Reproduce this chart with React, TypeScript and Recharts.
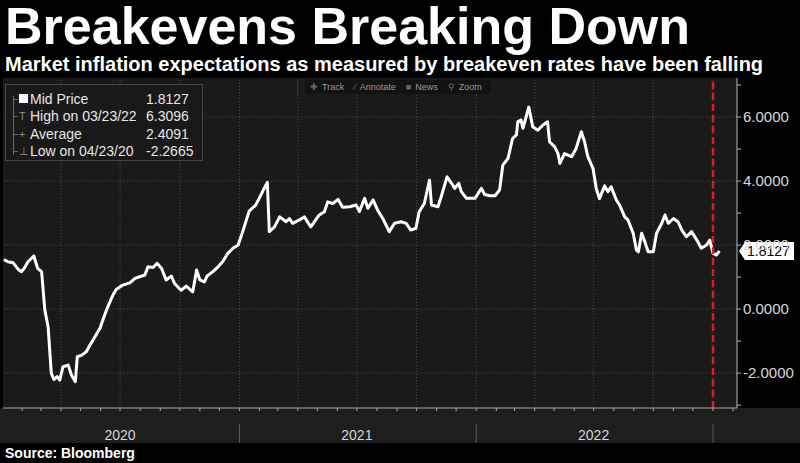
// Breakeven inflation rate, Bloomberg-style dark terminal chart.
import { Line, LineChart, ReferenceLine, XAxis, YAxis } from "recharts";

const TITLE = "Breakevens Breaking Down";
const SUBTITLE = "Market inflation expectations as measured by breakeven rates have been falling";
const SOURCE = "Source: Bloomberg";

// Roughly weekly.
const DATES = [
  "2020-01-04", "2020-01-10", "2020-01-18", "2020-01-26", "2020-01-31", "2020-02-05", "2020-02-10", "2020-02-19", "2020-02-25", "2020-03-02",
  "2020-03-07", "2020-03-12", "2020-03-17", "2020-03-21", "2020-03-26", "2020-03-30", "2020-04-04", "2020-04-12", "2020-04-17", "2020-04-23",
  "2020-04-26", "2020-05-03", "2020-05-10", "2020-05-14", "2020-05-23", "2020-05-31", "2020-06-07", "2020-06-12", "2020-06-20", "2020-06-25",
  "2020-07-05", "2020-07-16", "2020-07-24", "2020-07-31", "2020-08-08", "2020-08-13", "2020-08-21", "2020-08-27", "2020-09-03", "2020-09-10",
  "2020-09-18", "2020-09-23", "2020-10-03", "2020-10-11", "2020-10-21", "2020-10-27", "2020-11-01", "2020-11-08", "2020-11-12", "2020-11-21",
  "2020-11-29", "2020-12-06", "2020-12-14", "2020-12-22", "2020-12-30", "2021-01-06", "2021-01-16", "2021-01-26", "2021-02-03", "2021-02-08",
  "2021-02-13", "2021-02-16", "2021-02-24", "2021-03-04", "2021-03-14", "2021-03-19", "2021-03-24", "2021-04-03", "2021-04-11", "2021-04-21",
  "2021-05-04", "2021-05-12", "2021-05-17", "2021-05-25", "2021-06-02", "2021-06-09", "2021-06-20", "2021-06-30", "2021-07-05", "2021-07-13",
  "2021-07-18", "2021-07-26", "2021-08-02", "2021-08-10", "2021-08-20", "2021-08-28", "2021-09-07", "2021-09-15", "2021-09-22", "2021-09-30",
  "2021-10-05", "2021-10-13", "2021-10-21", "2021-10-24", "2021-11-03", "2021-11-08", "2021-11-17", "2021-11-24", "2021-11-29", "2021-12-05",
  "2021-12-09", "2021-12-17", "2021-12-30", "2022-01-09", "2022-01-14", "2022-01-22", "2022-01-30", "2022-02-06", "2022-02-11", "2022-02-19",
  "2022-02-26", "2022-03-04", "2022-03-06", "2022-03-11", "2022-03-14", "2022-03-19", "2022-03-23", "2022-03-29", "2022-04-06", "2022-04-14",
  "2022-04-21", "2022-04-24", "2022-05-02", "2022-05-07", "2022-05-10", "2022-05-17", "2022-05-28", "2022-06-04", "2022-06-12", "2022-06-17",
  "2022-06-22", "2022-06-30", "2022-07-05", "2022-07-10", "2022-07-18", "2022-07-23", "2022-07-28", "2022-08-05", "2022-08-10", "2022-08-18",
  "2022-08-23", "2022-08-31", "2022-09-05", "2022-09-08", "2022-09-13", "2022-09-18", "2022-09-23", "2022-10-01", "2022-10-06", "2022-10-14",
  "2022-10-19", "2022-10-24", "2022-11-01", "2022-11-08", "2022-11-14", "2022-11-21", "2022-11-29", "2022-12-07", "2022-12-14", "2022-12-22",
  "2022-12-27", "2023-01-01", "2023-01-06", "2023-01-11",
];

const VALUES = [
  1.55, 1.48, 1.45, 1.24, 1.17, 1.3, 1.48, 1.66, 1.27, 1.17,
  -0.03, -0.55, -2.01, -2.2, -2.11, -2.22, -1.8, -1.75, -2.06, -2.2665,
  -1.49, -1.44, -1.33, -1.18, -0.87, -0.6, -0.19, 0.07, 0.44, 0.61,
  0.75, 0.82, 0.96, 1.01, 1.06, 1.32, 1.3, 1.43, 1.27, 0.91,
  1.03, 0.8, 0.59, 0.72, 0.54, 1.22, 0.91, 0.85, 1.03, 1.17,
  1.32, 1.48, 1.74, 1.9, 2.0, 2.42, 3.06, 3.25, 3.56, 3.77,
  3.96, 2.42, 2.57, 2.88, 2.73, 2.83, 2.68, 2.78, 2.88, 2.57,
  2.94, 3.04, 3.35, 3.3, 3.43, 3.18, 3.2, 3.25, 3.05, 3.46,
  3.15, 3.41, 3.09, 2.83, 2.42, 2.68, 2.73, 2.68, 2.47, 2.52,
  3.04, 3.3, 4.03, 3.25, 3.2, 3.51, 4.13, 3.93, 3.77, 3.93,
  3.67, 3.46, 3.46, 3.77, 3.58, 3.54, 3.54, 3.72, 4.5, 4.71,
  5.33, 5.44, 5.85, 5.91, 5.65, 6.01, 6.3096, 5.7, 5.59, 5.75,
  5.85, 5.23, 5.07, 4.86, 4.55, 4.86, 4.76, 5.02, 5.54, 5.23,
  4.76, 4.4, 3.77, 3.45, 3.85, 3.67, 3.82, 3.41, 3.25, 2.88,
  2.78, 2.37, 1.84, 1.79, 2.37, 2.1, 1.79, 1.79, 2.37, 2.68,
  2.94, 2.68, 2.83, 2.73, 2.47, 2.26, 2.42, 2.16, 1.9, 2.0,
  2.16, 1.74, 1.69, 1.8127,
];

const YEARS = ["2020", "2021", "2022"];
const Y_TICKS = [-3, -2, -1, 0, 1, 2, 3, 4, 5, 6, 7];
const Y_GRID = [-2, 0, 2, 4, 6];
const LAST = 1.8127;
const MARKER_DATE = "2023-01-01";

const LEGEND_ROWS = [
  { icon: "square", label: "Mid Price", value: "1.8127" },
  { icon: "T", label: "High on 03/23/22", value: "6.3096" },
  { icon: "+", label: "Average", value: "2.4091" },
  { icon: "⊥", label: "Low on 04/23/20", value: "-2.2665" },
];

const TOOLS = [
  { icon: "✚", label: "Track" },
  { icon: "∕", label: "Annotate" },
  { icon: "■", label: "News" },
  { icon: "⚲", label: "Zoom" },
];

const FONT = "'Liberation Sans', Arial, sans-serif";
const DAY = 86400000;
const ORIGIN = Date.UTC(2020, 0, 1);
const toDay = (s: string) => (Date.parse(s) - ORIGIN) / DAY;

const data = DATES.map((d, i) => ({ t: toDay(d), v: VALUES[i] }));
const X_DOMAIN: [number, number] = [1.5, 1133];

// ticks mensuales en el eje, rejilla vertical por trimestre
const monthTicks: number[] = [];
const quarterTicks: number[] = [];
const tickMonth = new Map<number, { year: number; month: number }>();
for (let y = 2020; y <= 2023; y++) {
  for (let m = 0; m < 12; m++) {
    const t = (Date.UTC(y, m, 1) - ORIGIN) / DAY;
    if (t < X_DOMAIN[0] || t > X_DOMAIN[1]) continue;
    monthTicks.push(t);
    tickMonth.set(t, { year: y, month: m });
    if (m % 3 === 0) quarterTicks.push(t);
  }
}

// Cada tick mensual: en julio va la etiqueta del año, en enero el separador.
function MonthTick(props: any) {
  const { x, y, payload } = props;
  const info = tickMonth.get(payload.value);
  if (!info) return null;
  const label = String(info.year);
  if (info.month === 6 && YEARS.includes(label)) {
    return (
      <text x={x} y={y + 29} textAnchor="middle" fill="#d6d6d6" fontSize={14} fontFamily={FONT}>
        {label}
      </text>
    );
  }
  if (info.month === 0) {
    return <line x1={x} x2={x} y1={y + 13} y2={y + 32} stroke="#5a5a5a" strokeWidth={1} />;
  }
  return null;
}

function PriceTag(props: any) {
  const { viewBox } = props;
  if (!viewBox) return null;
  const x = viewBox.x + viewBox.width + 2;
  const y = viewBox.y;
  return (
    <g>
      <path d={`M${x} ${y} L${x + 6} ${y - 9} L${x + 55} ${y - 9} L${x + 55} ${y + 9} L${x + 6} ${y + 9} Z`} fill="#fff" />
      <text x={x + 8} y={y + 5} fontSize={14} fill="#000" fontFamily={FONT}>
        {LAST.toFixed(4)}
      </text>
    </g>
  );
}

export default function App() {
  return (
    <div
      style={{
        position: "absolute",
        left: 0,
        top: 0,
        width: 800,
        height: 463,
        background: "#000",
        overflow: "hidden",
        fontFamily: FONT,
        color: "#fff",
      }}
    >
      <div style={{ position: "absolute", left: 5, top: 1, fontSize: 52, fontWeight: 700, lineHeight: "50px", whiteSpace: "nowrap" }}>
        {TITLE}
      </div>
      <div style={{ position: "absolute", left: 5, top: 55, fontSize: 20, fontWeight: 700, lineHeight: "19px", whiteSpace: "nowrap" }}>
        {SUBTITLE}
      </div>

      {/* fondo del area de trazado y banda del eje de años */}
      <div style={{ position: "absolute", left: 3, top: 78, width: 734, height: 330, background: "#1a1a1a" }} />
      <div style={{ position: "absolute", left: 0, top: 408, width: 800, height: 35, background: "#1e1e1e" }} />

      <div style={{ position: "absolute", left: 0, top: 78 }}>
        <LineChart width={800} height={365} data={data} margin={{ top: 0, right: 0, bottom: 0, left: 3 }}>
          {quarterTicks.map((t) => (
            <ReferenceLine key={`q${t}`} x={t} stroke="#4a4a4a" strokeDasharray="1 2" />
          ))}
          {Y_GRID.map((v) => (
            <ReferenceLine key={`g${v}`} y={v} stroke="#4a4a4a" strokeDasharray="1 2" />
          ))}
          <XAxis
            dataKey="t"
            type="number"
            domain={X_DOMAIN}
            allowDataOverflow
            ticks={monthTicks}
            interval={0}
            tick={<MonthTick />}
            tickSize={3}
            tickMargin={0}
            height={35}
            axisLine={{ stroke: "#a8a8a8" }}
            tickLine={{ stroke: "#a8a8a8" }}
          />
          <YAxis
            orientation="right"
            type="number"
            domain={[-3.09, 7.22]}
            allowDataOverflow
            ticks={Y_TICKS}
            interval={0}
            tickFormatter={(v: number) => (v % 2 === 0 ? v.toFixed(4) : "")}
            width={63}
            tickSize={4}
            tickMargin={2}
            axisLine={{ stroke: "#b8b8b8" }}
            tickLine={{ stroke: "#b8b8b8" }}
            tick={{ fill: "#d8d8d8", fontSize: 15, fontFamily: FONT }}
          />
          <Line
            type="linear"
            dataKey="v"
            stroke="#ffffff"
            strokeWidth={3}
            strokeLinejoin="round"
            dot={false}
            activeDot={false}
            isAnimationActive={false}
          />
          <ReferenceLine x={toDay(MARKER_DATE)} stroke="#e3182d" strokeWidth={2.5} strokeDasharray="7 4" />
          <ReferenceLine y={LAST} stroke="none" label={<PriceTag />} />
        </LineChart>
      </div>

      {/* cuadro de estadisticas arriba a la izquierda */}
      <div
        style={{
          position: "absolute",
          left: 5,
          top: 84,
          width: 198,
          height: 77,
          border: "1px solid #474747",
          background: "#191919",
          boxSizing: "border-box",
        }}
      />
      <div style={{ position: "absolute", left: 13, top: 96, width: 1, height: 59, background: "#666" }} />
      {LEGEND_ROWS.map((r, i) => {
        const top = 91 + i * 17.3;
        return (
          <div key={r.label}>
            <div style={{ position: "absolute", left: 13, top: top + 8, width: 5, height: 1, background: "#666" }} />
            {r.icon === "square" ? (
              <div style={{ position: "absolute", left: 19, top: top + 3, width: 9, height: 9, background: "#fff" }} />
            ) : (
              <div style={{ position: "absolute", left: 19, top: top + 1, fontSize: 11, lineHeight: "14px", color: "#8a8a8a" }}>
                {r.icon}
              </div>
            )}
            <div style={{ position: "absolute", left: 30, top, fontSize: 14, lineHeight: "17px", color: "#e6e6e6", whiteSpace: "nowrap" }}>
              {r.label}
            </div>
            <div style={{ position: "absolute", left: 146, top, fontSize: 14, lineHeight: "17px", color: "#e6e6e6", whiteSpace: "nowrap" }}>
              {r.value}
            </div>
          </div>
        );
      })}

      {/* barra de herramientas */}
      <div style={{ position: "absolute", left: 297, top: 79, width: 1, height: 15, background: "#333" }} />
      <div
        style={{
          position: "absolute",
          left: 305,
          top: 80,
          width: 186,
          height: 14,
          background: "#121212",
          display: "flex",
          alignItems: "center",
          gap: 10,
          paddingLeft: 5,
          boxSizing: "border-box",
          fontSize: 9,
          color: "#9a9a9a",
          whiteSpace: "nowrap",
        }}
      >
        {TOOLS.map((t) => (
          <span key={t.label}>
            <span style={{ color: "#6a6a6a", marginRight: 4 }}>{t.icon}</span>
            {t.label}
          </span>
        ))}
      </div>

      <div style={{ position: "absolute", left: 5, top: 446, fontSize: 14, fontWeight: 700, lineHeight: 1, whiteSpace: "nowrap" }}>
        {SOURCE}
      </div>
    </div>
  );
}
